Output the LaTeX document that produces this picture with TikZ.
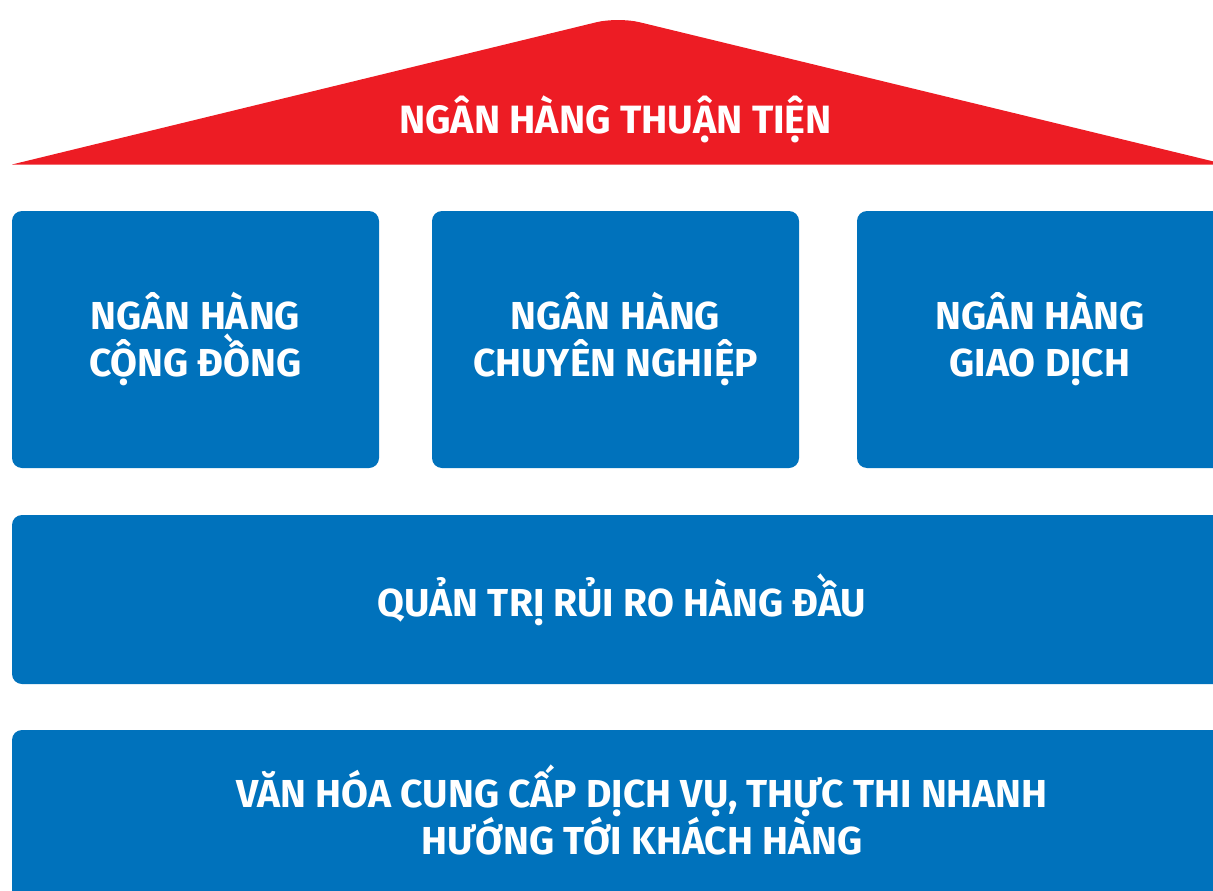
\documentclass[tikz,border=0pt]{standalone}
\usepackage{fontspec}
\setmainfont{Fira Sans}
\definecolor{roofred}{RGB}{237,28,36}
\definecolor{boxblue}{RGB}{0,114,188}
\tikzset{
  blk/.style={fill=boxblue, rounded corners=10pt, inner sep=0pt, text=white,
    align=center, font=\fontsize{39}{47}\selectfont\bfseries},
}
\begin{document}
\begin{tikzpicture}[x=1pt,y=-1pt]
\useasboundingbox (0,0) rectangle (1213,891);
\clip (0,0) rectangle (1213,891);
\fill[white] (0,0) rectangle (1213,891);
% roof
\fill[roofred] (12,164.5) [rounded corners=22pt] -- (618,17) [sharp corners] -- (1226,164.5) -- cycle;
\node[text=white, font=\fontsize{39.5}{46}\selectfont\bfseries] (roof) at (615.5,119) {NGÂN HÀNG THUẬN TIỆN};
% pillars
\node[blk, minimum width=367pt, minimum height=257pt] (p1) at (195.5,339.5) {NGÂN HÀNG\\CỘNG ĐỒNG};
\node[blk, minimum width=367pt, minimum height=257pt] (p2) at (615.5,339.5) {NGÂN HÀNG\\CHUYÊN NGHIỆP};
\node[blk, minimum width=366pt, minimum height=257pt] (p3) at (1040,339.5) {NGÂN HÀNG\\GIAO DỊCH};
% base rows
\node[blk, minimum width=1220pt, minimum height=169pt] (risk) at (622,599.5) {QUẢN TRỊ RỦI RO HÀNG ĐẦU};
\node[blk, minimum width=1260pt, minimum height=160pt, font=\fontsize{39}{45}\selectfont\bfseries] (culture) at (642,810) {VĂN HÓA CUNG CẤP DỊCH VỤ, THỰC THI NHANH\\HƯỚNG TỚI KHÁCH HÀNG};
\fill[boxblue] (12,860) rectangle (1213,891);
\end{tikzpicture}
\end{document}
